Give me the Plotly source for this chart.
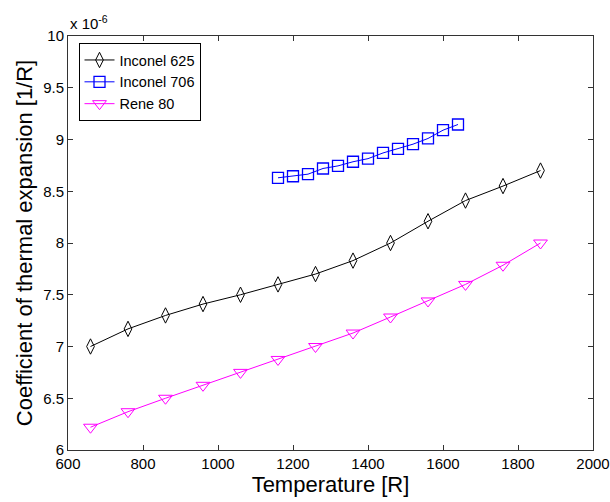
import plotly.graph_objects as go

temp_625 = [660, 760, 860, 960, 1060, 1160, 1260, 1360, 1460, 1560, 1660, 1760, 1860]
cte_625 = [7.0, 7.17, 7.30, 7.41, 7.50, 7.60, 7.70, 7.83, 8.0, 8.21, 8.41, 8.55, 8.70]

temp_706 = [1160, 1200, 1240, 1280, 1320, 1360, 1400, 1440, 1480, 1520, 1560, 1600, 1640]
cte_706 = [8.63, 8.645, 8.665, 8.72, 8.745, 8.785, 8.815, 8.87, 8.91, 8.955, 9.01, 9.09, 9.145]

temp_r80 = [660, 760, 860, 960, 1060, 1160, 1260, 1360, 1460, 1560, 1660, 1760, 1860]
cte_r80 = [6.22, 6.37, 6.50, 6.625, 6.75, 6.875, 7.0, 7.13, 7.285, 7.44, 7.60, 7.785, 8.0]

x_ticks = [600, 800, 1000, 1200, 1400, 1600, 1800, 2000]
y_ticks = [6, 6.5, 7, 7.5, 8, 8.5, 9, 9.5, 10]

FONT = "Arial, 'Liberation Sans', sans-serif"

fig = go.Figure()
fig.add_trace(go.Scatter(x=temp_625, y=cte_625, name="Inconel 625", mode="lines+markers",
                         line=dict(color="black", width=1),
                         marker=dict(symbol="diamond-tall-open", size=11, color="black", line=dict(width=1))))
fig.add_trace(go.Scatter(x=temp_706, y=cte_706, name="Inconel 706", mode="lines+markers",
                         line=dict(color="#0000FF", width=1),
                         marker=dict(symbol="square-open", size=11, color="#0000FF", line=dict(width=1.3))))
fig.add_trace(go.Scatter(x=temp_r80, y=cte_r80, name="Rene 80", mode="lines+markers",
                         line=dict(color="#FF00FF", width=1),
                         marker=dict(symbol="triangle-down-open", size=12, color="#FF00FF", line=dict(width=1))))

axis_common = dict(showgrid=False, zeroline=False, showline=True, linecolor="#333333", linewidth=1,
                   mirror="allticks", ticks="inside", ticklen=5, tickcolor="#333333", automargin=False,
                   tickfont=dict(family=FONT, size=15, color="black"))

fig.update_layout(
    width=610, height=502,
    margin=dict(l=68, r=17, t=36, b=52),
    paper_bgcolor="white", plot_bgcolor="white",
    font=dict(family=FONT, color="black"),
    xaxis=dict(range=[600, 2000], tickvals=x_ticks, ticktext=[str(v) for v in x_ticks],
               title=dict(text="Temperature [R]", font=dict(family=FONT, size=22), standoff=2),
               **axis_common),
    yaxis=dict(range=[6, 10], tickvals=y_ticks, ticktext=[f"{v:g}" for v in y_ticks],
               title=dict(text="Coefficient of thermal expansion [1/R]", font=dict(family=FONT, size=22), standoff=4),
               **axis_common),
    legend=dict(x=0.02, y=0.983, xanchor="left", yanchor="top", bgcolor="white",
                bordercolor="black", borderwidth=1, font=dict(family=FONT, size=14.5),
                tracegroupgap=0, itemwidth=30),
    showlegend=True,
)

fig.add_annotation(xref="paper", yref="paper", x=0, y=1, xanchor="left", yanchor="bottom",
                   yshift=2, text="x 10<sup>-6</sup>", showarrow=False,
                   font=dict(family=FONT, size=15, color="black"))

fig.write_html("out.html", config={"displayModeBar": False},
               post_script="document.body.style.margin='0';document.body.style.overflow='hidden';")
